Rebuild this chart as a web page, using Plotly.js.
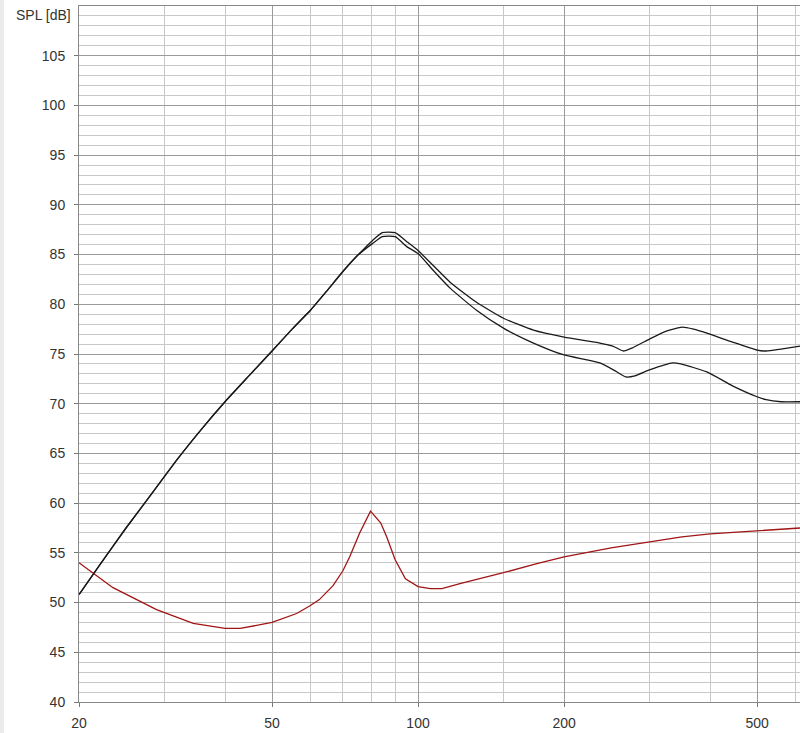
<!DOCTYPE html>
<html>
<head>
<meta charset="utf-8">
<script src="https://cdn.plot.ly/plotly-3.0.1.min.js"></script>
<style>
  html, body { margin: 0; padding: 0; background: #ffffff; }
  #chart { width: 800px; height: 733px; }
  #strip { position: absolute; left: 0; top: 0; width: 4px; height: 733px; background: #ebebeb; pointer-events: none; }
</style>
</head>
<body>
<div id="chart"></div>
<div id="strip"></div>
<script>
// Frequency response data (Hz, dB SPL)
const freqUpper = [20, 22, 25, 28, 32, 36, 40, 45, 50, 55, 60, 65, 70, 75, 80.5, 84.4, 89.7, 94.8, 100, 108, 116.6, 132, 150, 173, 200, 237, 252, 265, 276, 300, 325, 350, 370, 394, 445, 500, 522, 560, 613];
const splUpper  = [50.8, 53.7, 57.5, 60.7, 64.5, 67.6, 70.2, 72.9, 75.3, 77.5, 79.4, 81.4, 83.3, 84.9, 86.4, 87.2, 87.2, 86.3, 85.4, 83.8, 82.2, 80.2, 78.6, 77.4, 76.7, 76.1, 75.8, 75.3, 75.6, 76.5, 77.3, 77.7, 77.5, 77.1, 76.2, 75.4, 75.3, 75.5, 75.8];

const freqLower = [20, 22, 25, 28, 32, 36, 40, 45, 50, 55, 60, 65, 70, 75, 80.5, 84.4, 89.7, 94.8, 100, 108, 116.6, 132, 150, 173, 200, 237, 255, 268, 280, 300, 335, 348, 394, 445, 500, 522, 560, 613];
const splLower  = [50.8, 53.7, 57.5, 60.7, 64.5, 67.6, 70.2, 72.9, 75.3, 77.5, 79.4, 81.4, 83.3, 84.9, 86.1, 86.8, 86.8, 85.8, 85.1, 83.3, 81.6, 79.4, 77.6, 76.1, 74.9, 74.1, 73.3, 72.7, 72.8, 73.4, 74.1, 74.0, 73.2, 71.8, 70.7, 70.4, 70.2, 70.2];

const freqRed = [20, 23.5, 28.9, 30, 34.4, 40, 43, 50, 56.2, 60, 62.6, 66.8, 70, 72.3, 75.8, 79.8, 83.8, 86.2, 89.7, 94.2, 100, 106, 112, 122, 134, 150, 175, 200, 250, 300, 350, 400, 500, 613];
const splRed  = [54.0, 51.5, 49.3, 49.0, 47.9, 47.4, 47.4, 48.0, 48.9, 49.7, 50.3, 51.7, 53.2, 54.6, 57.0, 59.2, 58.0, 56.6, 54.3, 52.4, 51.6, 51.4, 51.4, 51.9, 52.4, 53.0, 53.9, 54.6, 55.5, 56.1, 56.6, 56.9, 57.2, 57.5];

const xMajorTicks = [20, 50, 100, 200, 500];
const xMajorLabels = ['20', '50', '100', '200', '500'];
const xMinorTicks = [30, 40, 60, 70, 80, 90, 150, 300, 400, 600];
const yTicks = [40, 45, 50, 55, 60, 65, 70, 75, 80, 85, 90, 95, 100, 105];
const yMinorTicks = [];
for (let v = 40; v <= 110; v += 1) { if (v % 5 !== 0) yMinorTicks.push(v); }

const traces = [
  { x: freqRed, y: splRed, type: 'scatter', mode: 'lines', line: { color: '#a01515', width: 1.3 }, showlegend: false },
  { x: freqLower, y: splLower, type: 'scatter', mode: 'lines', line: { color: '#1a1a1a', width: 1.3, shape: 'spline', smoothing: 0.5 }, showlegend: false },
  { x: freqUpper, y: splUpper, type: 'scatter', mode: 'lines', line: { color: '#1a1a1a', width: 1.3, shape: 'spline', smoothing: 0.5 }, showlegend: false }
];

const font = { family: 'Liberation Sans, Arial, sans-serif', size: 14, color: '#333333' };

const layout = {
  width: 800, height: 733,
  margin: { l: 79, r: 0, t: 6, b: 31, pad: 0 },
  paper_bgcolor: '#ffffff',
  plot_bgcolor: '#ffffff',
  font: font,
  showlegend: false,
  xaxis: {
    type: 'log',
    range: [Math.log10(20), Math.log10(613)],
    tickmode: 'array', tickvals: xMajorTicks, ticktext: xMajorLabels,
    showgrid: true, gridcolor: '#9a9a9a', gridwidth: 1,
    ticks: 'outside', ticklen: 4, tickcolor: '#777777', tickwidth: 1,
    ticklabelstandoff: 4,
    showline: true, linecolor: '#888888', linewidth: 1, mirror: true,
    zeroline: false,
    tickfont: font,
    minor: { tickmode: 'array', tickvals: xMinorTicks, showgrid: true, gridcolor: '#c8c8c8', gridwidth: 1, ticks: '' }
  },
  yaxis: {
    range: [40, 110],
    tickmode: 'array', tickvals: yTicks,
    showgrid: true, gridcolor: '#9a9a9a', gridwidth: 1,
    ticks: 'outside', ticklen: 4, tickcolor: '#777777', tickwidth: 1,
    ticklabelstandoff: 6,
    showline: true, linecolor: '#888888', linewidth: 1, mirror: true,
    zeroline: false,
    tickfont: font,
    minor: { tickmode: 'array', tickvals: yMinorTicks, showgrid: true, gridcolor: '#c8c8c8', gridwidth: 1, ticks: '' }
  },
  annotations: [
    { text: 'SPL [dB]', xref: 'paper', yref: 'paper', x: 0, y: 1, xanchor: 'right', yanchor: 'middle',
      xshift: -6, yshift: -9, showarrow: false, font: font }
  ]
};

Plotly.newPlot('chart', traces, layout, { staticPlot: true, displayModeBar: false });
</script>
</body>
</html>
